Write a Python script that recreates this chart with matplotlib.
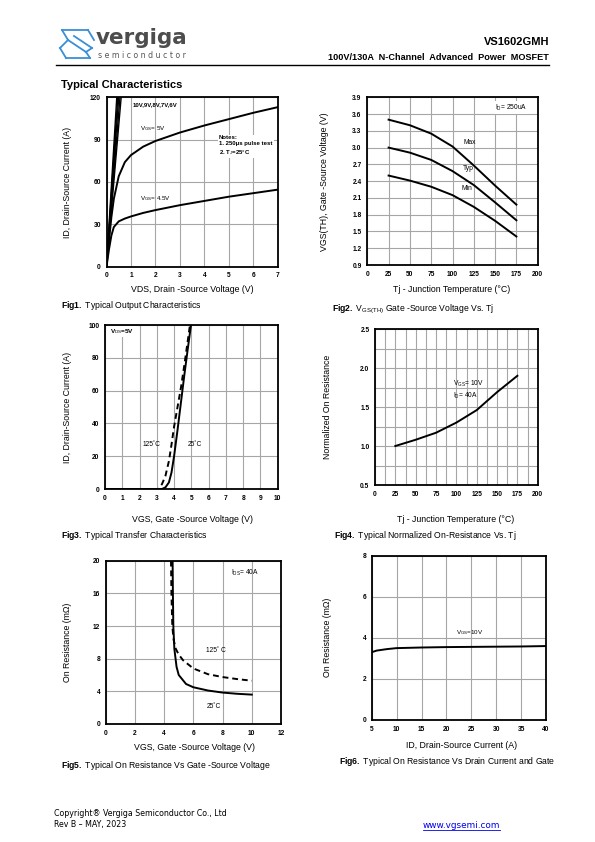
import numpy as np
import matplotlib
matplotlib.use("Agg")
import matplotlib.pyplot as plt
from matplotlib.lines import Line2D

plt.rcParams['font.family'] = ['Liberation Sans', 'DejaVu Sans']
plt.rcParams['mathtext.fontset'] = 'custom'
plt.rcParams['mathtext.rm'] = 'Liberation Sans'
plt.rcParams['mathtext.bf'] = 'Liberation Sans:bold'
plt.rcParams['mathtext.it'] = 'Liberation Sans:italic'

# ---------------- datos ----------------
# Fig1: curvas de salida
vds_45 = [0, 0.1, 0.2, 0.3, 0.5, 0.75, 1, 1.5, 2, 3, 4, 5, 6, 7]
id_45 = [0, 12, 22, 28, 32, 34, 35.5, 38, 40, 43.5, 46.5, 49.5, 52, 54.5]
vds_5 = [0, 0.1, 0.2, 0.3, 0.5, 0.75, 1, 1.5, 2, 3, 4, 5, 6, 7]
id_5 = [0, 18, 35, 48, 64, 74, 79, 85, 89, 95, 100, 104.5, 109, 113]
vds_alto_120 = [0.42, 0.46, 0.50, 0.55, 0.60]   # VDS donde 10V..6V llegan a 120 A
etiquetas_alto = "10V,9V,8V,7V,6V"

# Fig2: VGS(TH) vs Tj
tj = [25, 50, 75, 100, 125, 150, 175]
vth_max = [3.50, 3.40, 3.25, 3.02, 2.68, 2.32, 1.98]
vth_typ = [3.00, 2.91, 2.78, 2.58, 2.33, 2.02, 1.70]
vth_min = [2.50, 2.41, 2.30, 2.15, 1.94, 1.69, 1.41]

# Fig3: transferencia
vgs_25 = [0, 3.3, 3.5, 3.7, 3.85, 4.0, 4.2, 4.4, 4.6, 4.8, 4.98]
id_25 = [0, 0, 1, 4, 10, 20, 36, 53, 70, 86, 100]
vgs_125 = [0, 3.1, 3.3, 3.5, 3.7, 3.85, 4.0, 4.2, 4.4, 4.6, 4.92]
id_125 = [0, 0, 3, 8, 17, 27, 38, 50, 62, 76, 100]

# Fig4: RDS(on) normalizada
tj4 = [25, 50, 75, 100, 125, 150, 175]
rn = [1.00, 1.08, 1.17, 1.30, 1.46, 1.69, 1.90]

# Fig5: RDS(on) vs VGS
vgs5_25 = [4.58, 4.60, 4.63, 4.70, 4.85, 5.0, 5.5, 6, 7, 8, 9, 10]
r5_25 = [20, 16, 12, 9.2, 7.0, 6.0, 4.9, 4.5, 4.1, 3.85, 3.7, 3.6]
vgs5_125 = [4.47, 4.50, 4.56, 4.65, 4.8, 5.0, 5.3, 6, 7, 8, 9, 10]
r5_125 = [20, 16, 12, 10.3, 9.2, 8.5, 7.8, 6.8, 6.1, 5.75, 5.5, 5.3]

# Fig6: RDS(on) vs ID
id6 = [5, 6, 8, 10, 15, 20, 25, 30, 35, 40]
r6 = [3.30, 3.38, 3.45, 3.50, 3.53, 3.55, 3.56, 3.57, 3.58, 3.60]

W, H = 595, 842
fig = plt.figure(figsize=(W / 100, H / 100), dpi=100)


def px(x, y):
    return x / W, 1 - y / H


def ejes(x0, y0, x1, y1):
    ax = fig.add_axes([x0 / W, 1 - y1 / H, (x1 - x0) / W, (y1 - y0) / H])
    for s in ax.spines.values():
        s.set_linewidth(1.3)
        s.set_color('black')
    ax.tick_params(length=0, labelsize=4.8, pad=4)
    ax.grid(True, color='#a6a6a6', lw=0.8)
    ax.set_axisbelow(True)
    return ax


def fix_ticks(ax):
    for lab in ax.get_xticklabels() + ax.get_yticklabels():
        lab.set_fontweight('bold')


def rotulos(xl, yl, xlab, ylab, ycap, cap):
    fig.text(*px(*xl), xlab, ha='center', va='center', fontsize=6.3)
    fig.text(*px(*yl), ylab, ha='center', va='center', fontsize=6.3, rotation=90)
    fig.text(*px(ycap[0], ycap[1]), cap, ha='left', va='center', fontsize=6.2)


caja = dict(facecolor='white', edgecolor='none', pad=0.8)

# ---------------- cabecera ----------------
fig.text(*px(96, 38), "vergiga", fontsize=15.5, fontweight='bold', color='#4d4d4d',
         ha='left', va='center', family='DejaVu Sans')
fig.text(*px(98, 56), "s e m i c o n d u c t o r", fontsize=5.6, color='#555555',
         ha='left', va='center', family='DejaVu Sans')
# icono
azul = '#3a8fd6'
icono = [[(62, 30), (88, 30)], [(88, 30), (94, 40)], [(62, 30), (68, 40)],
         [(68, 40), (86, 52)], [(74, 36), (92, 48)], [(60, 48), (66, 58)],
         [(66, 58), (90, 58)], [(90, 58), (86, 52)], [(68, 40), (60, 48)],
         [(92, 48), (86, 52)]]
for (a, b) in icono:
    fig.add_artist(Line2D([a[0] / W, b[0] / W], [1 - a[1] / H, 1 - b[1] / H],
                          color=azul, lw=1.3))
fig.text(*px(549, 42), "VS1602GMH", fontsize=8, fontweight='bold', ha='right', va='center')
fig.text(*px(549, 58), "100V/130A  N-Channel  Advanced  Power  MOSFET", fontsize=6.6,
         fontweight='bold', ha='right', va='center')
fig.add_artist(Line2D([56 / W, 549 / W], [1 - 64.5 / H, 1 - 64.5 / H], color='black', lw=1.0))
fig.text(*px(61, 85), "Typical Characteristics", fontsize=8, fontweight='bold',
         ha='left', va='center')

# ---------------- Fig1 ----------------
ax1 = ejes(106.5, 97.3, 277.7, 266.5)
ax1.set_xlim(0, 7)
ax1.set_ylim(0, 120)
ax1.set_xticks(range(0, 8))
ax1.set_yticks([0, 30, 60, 90, 120])
fix_ticks(ax1)
for xv in vds_alto_120:
    ax1.plot([0, xv * 1.05], [0, 126], color='black', lw=1.0)
ax1.plot(vds_5, id_5, color='black', lw=1.4)
ax1.plot(vds_45, id_45, color='black', lw=1.4)
ax1.text(1.05, 114, etiquetas_alto, fontsize=4.3, fontweight='bold')
ax1.text(1.35, 97, r"V$_{\rm GS}$= 5V", fontsize=4.5)
ax1.text(1.35, 47, r"V$_{\rm GS}$= 4.5V", fontsize=4.5)
ax1.text(4.6, 80, "Notes:\n1. 250\u03bcs pulse test\n2. T$_{\\rm J}$=25\u00b0C",
         fontsize=4.3, fontweight='bold', linespacing=1.3, bbox=caja)
rotulos((192, 290), (67, 182), "VDS, Drain -Source Voltage (V)",
        "ID, Drain-Source Current (A)", (61, 305),
        r"$\bf{Fig1.}$ Typical Output Characteristics")

# ---------------- Fig2 ----------------
ax2 = ejes(367.3, 97.3, 537.7, 265)
ax2.set_xlim(0, 200)
ax2.set_ylim(0.9, 3.9)
ax2.set_xticks(range(0, 201, 25))
ax2.set_yticks(np.round(np.arange(0.9, 3.91, 0.3), 1))
ax2.set_yticklabels([f"{v:.1f}" for v in np.arange(0.9, 3.91, 0.3)])
fix_ticks(ax2)
for serie in (vth_max, vth_typ, vth_min):
    ax2.plot(tj, serie, color='black', lw=1.4)
ax2.text(113, 3.06, "Max", fontsize=4.8)
ax2.text(112, 2.6, "Typ", fontsize=4.8)
ax2.text(110, 2.25, "Min", fontsize=4.8)
ax2.text(150, 3.68, r"I$_{\rm D}$= 250uA", fontsize=4.8, bbox=caja)
rotulos((452, 290), (325, 182), "Tj - Junction Temperature (\u00b0C)",
        "VGS(TH), Gate -Source Voltage (V)", (332, 309),
        r"$\bf{Fig2.}$ V$_{\rm GS(TH)}$ Gate -Source Voltage Vs. Tj")

# ---------------- Fig3 ----------------
ax3 = ejes(105, 325, 277.7, 489)
ax3.set_xlim(0, 10)
ax3.set_ylim(0, 100)
ax3.set_xticks(range(0, 11))
ax3.set_yticks(range(0, 101, 20))
fix_ticks(ax3)
ax3.plot(vgs_25, id_25, color='black', lw=1.4)
ax3.plot(vgs_125, id_125, color='black', lw=1.4, ls=(0, (3, 2)))
ax3.text(2.2, 26, "125\u02daC", fontsize=4.8)
ax3.text(4.8, 26, "25\u02daC", fontsize=4.8)
ax3.text(0.3, 95, r"V$_{\rm DS}$=5V", fontsize=4.6, fontweight='bold', bbox=caja)
rotulos((192, 519), (67, 407), "VGS, Gate -Source Voltage (V)",
        "ID, Drain-Source Current (A)", (61, 535),
        r"$\bf{Fig3.}$ Typical Transfer Characteristics")

# ---------------- Fig4 ----------------
ax4 = ejes(375, 329, 537.7, 485)
ax4.set_xlim(0, 200)
ax4.set_ylim(0.5, 2.5)
ax4.set_xticks(range(0, 201, 25))
ax4.set_xticks(np.arange(12.5, 200, 25), minor=True)
ax4.set_yticks([0.5, 1.0, 1.5, 2.0, 2.5])
ax4.set_yticks([0.75, 1.25, 1.75, 2.25], minor=True)
ax4.set_yticklabels(["0.5", "1.0", "1.5", "2.0", "2.5"])
ax4.tick_params(which='minor', length=0)
ax4.grid(True, which='minor', color='#a6a6a6', lw=0.8)
fix_ticks(ax4)
ax4.plot(tj4, rn, color='black', lw=1.4)
ax4.text(96, 1.77, r"V$_{\rm GS}$= 10V", fontsize=4.8)
ax4.text(96, 1.62, r"I$_{\rm D}$= 40A", fontsize=4.8)
rotulos((456, 520), (327, 407), "Tj - Junction Temperature (\u00b0C)",
        "Normalized On Resistance", (334, 536),
        r"$\bf{Fig4.}$ Typical Normalized On-Resistance Vs. Tj")

# ---------------- Fig5 ----------------
ax5 = ejes(105.7, 560.7, 281, 724)
ax5.set_xlim(0, 12)
ax5.set_ylim(0, 20)
ax5.set_xticks(range(0, 13, 2))
ax5.set_yticks(range(0, 21, 4))
fix_ticks(ax5)
ax5.plot(vgs5_25, r5_25, color='black', lw=1.4)
ax5.plot(vgs5_125, r5_125, color='black', lw=1.4, ls=(0, (3, 2)))
ax5.text(8.6, 18.3, r"I$_{\rm DS}$= 40A", fontsize=4.8)
ax5.text(6.9, 8.8, "125\u02da C", fontsize=4.8)
ax5.text(6.9, 2.0, "25\u02daC", fontsize=4.8)
rotulos((195, 748), (67, 642), "VGS, Gate -Source Voltage (V)",
        "On Resistance (m\u03a9)", (61, 766),
        r"$\bf{Fig5.}$ Typical On Resistance Vs Gate -Source Voltage")

# ---------------- Fig6 ----------------
ax6 = ejes(371.7, 555.7, 546, 720)
ax6.set_xlim(5, 40)
ax6.set_ylim(0, 8)
ax6.set_xticks(range(5, 41, 5))
ax6.set_yticks(range(0, 9, 2))
fix_ticks(ax6)
ax6.plot(id6, r6, color='black', lw=1.4)
ax6.text(22, 4.2, r"V$_{\rm GS}$=10V", fontsize=4.5)
rotulos((462, 746), (327, 637), "ID, Drain-Source Current (A)",
        "On Resistance (m\u03a9)", (339, 762),
        r"$\bf{Fig6.}$ Typical On Resistance Vs Drain Current and Gate")

# ---------------- pie ----------------
fig.text(*px(54, 814), "Copyright\u00ae Vergiga Semiconductor Co., Ltd", fontsize=5.7,
         family='DejaVu Sans', ha='left', va='center')
fig.text(*px(54, 825), "Rev B \u2013 MAY, 2023", fontsize=5.7,
         family='DejaVu Sans', ha='left', va='center')
fig.text(*px(423, 825), "www.vgsemi.com", fontsize=6.4, color='#0000ee',
         family='DejaVu Sans', ha='left', va='center')
fig.add_artist(Line2D([423 / W, 500 / W], [1 - 830 / H, 1 - 830 / H], color='#0000ee', lw=0.6))

fig.savefig("out.png", dpi=100)
